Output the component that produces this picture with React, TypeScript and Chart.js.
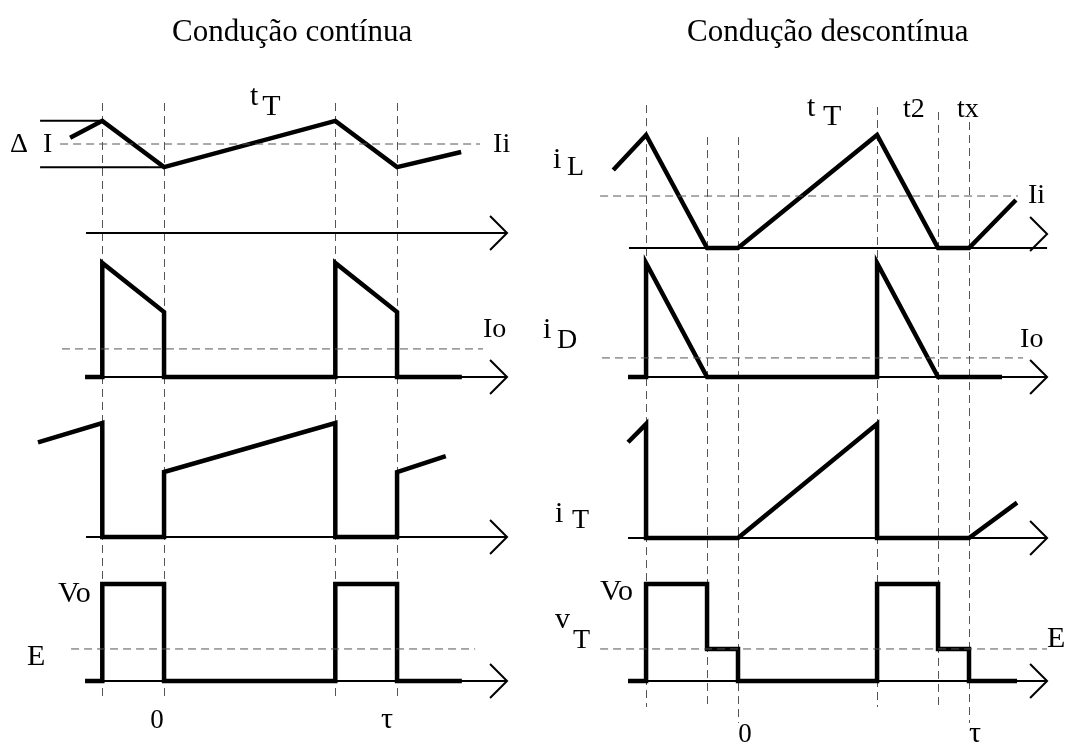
import React, { useEffect, useRef } from "react";
import { Chart, registerables } from "chart.js";

Chart.register(...registerables);

// ---------- shared row bands (stack weights of the 4 stacked y axes) ----------
const rowIds = ["rA", "rB", "rC", "rD"];
const rowWeights = [255, 145, 160, 185];

// ================= LEFT: Condução contínua (time normalised to τ) =================
const ccTimeRange = [-0.704, 1.622];
const ccRowMin = [-0.247, -0.202, -0.202, -0.66];
const ccRowMax = [2.618, 1.07, 1.202, 1.247];

const ccIL_t = [-0.403, -0.265, 0, 0.735, 1, 1.275];
const ccIL_v = [1.07, 1.26, 0.74, 1.26, 0.74, 0.91];
const ccBracket_t = [-0.532, -0.265, 0];
const ccBracket_v = [1.26, 0.74];
const ccID_t = [-0.339, -0.265, -0.265, 0, 0, 0.735, 0.735, 1, 1, 1.278];
const ccID_v = [0, 0, 1, 0.57, 0, 0, 1, 0.57, 0, 0];
const ccIT_t = [-0.541, -0.265, -0.265, 0, 0, 0.735, 0.735, 1, 1, 1.209];
const ccIT_v = [0.83, 1, 0, 0, 0.57, 1, 0, 0, 0.57, 0.71];
const ccVT_t = [-0.339, -0.265, -0.265, 0, 0, 0.735, 0.735, 1, 1, 1.278];
const ccVT_v = [0, 0, 1, 1, 0, 0, 1, 1, 0, 0];

const ccLevelRows = ["rA", "rB", "rD"];
const ccLevelVals = [1, 0.246, 0.33];
const ccLevelFrom = [-0.446, -0.438, -0.399];
const ccLevelTo = [1.356, 1.369, 1.335];

const ccAxisFrom = [-0.335, -0.335, -0.335, -0.335];
const ccAxisTo = [1.472, 1.472, 1.472, 1.472];
const ccAxisLevel = [0, 0, 0, 0];
const ccArrowLevel = [0, 0, 0, 0];

const ccGuide_t = [-0.265, 0, 0.735, 1];
const ccGuideTop = [1.461, 1.461, 1.461, 1.461];
const ccGuideBottom = [-0.165, -0.165, -0.165, -0.165];

const ccLabelText = ["Condução contínua", "Δ", "I", "t", "T", "Ii", "Io", "Vo", "E", "0", "τ"];
const ccLabelT = [0.034, -0.661, -0.519, 0.369, 0.421, 1.412, 1.369, -0.455, -0.588, -0.03, 0.957];
const ccLabelRow = ["rA", "rA", "rA", "rA", "rA", "rA", "rB", "rD", "rD", "rD", "rD"];
const ccLabelV = [2.157, 0.91, 0.91, 1.438, 1.326, 0.91, 0.351, 0.814, 0.165, -0.485, -0.485];
const ccLabelSize = [31, 28, 28, 30, 30, 28, 28, 30, 30, 27, 30];
const ccLabelAlign = ["left", "left", "left", "left", "left", "left", "left", "left", "left", "center", "center"];

// ================= RIGHT: Condução descontínua =================
const dcTimeRange = [-0.8485, 1.4978];
const dcRowMin = [-0.062, -0.202, -0.193, -0.66];
const dcRowMax = [2.195, 1.07, 1.211, 1.247];

const dcIL_t = [-0.54, -0.398, -0.134, 0, 0.602, 0.866, 1, 1.203];
const dcIL_v = [0.69, 1, 0, 0, 1, 0, 0, 0.425];
const dcID_t = [-0.476, -0.398, -0.398, -0.134, 0.602, 0.602, 0.866, 1.143];
const dcID_v = [0, 0, 1, 0, 0, 1, 0, 0];
const dcIT_t = [-0.476, -0.398, -0.398, 0, 0.602, 0.602, 1, 1.208];
const dcIT_v = [0.84, 1, 0, 0, 1, 0, 0, 0.31];
const dcVT_t = [-0.476, -0.398, -0.398, -0.134, -0.134, 0, 0, 0.602, 0.602, 0.866, 0.866, 1, 1, 1.208];
const dcVT_v = [0, 0, 1, 1, 0.33, 0.33, 0, 0, 1, 1, 0.33, 0.33, 0, 0];

const dcLevelRows = ["rA", "rB", "rD"];
const dcLevelVals = [0.46, 0.167, 0.33];
const dcLevelFrom = [-0.597, -0.589, -0.597];
const dcLevelTo = [1.212, 1.234, 1.338];

const dcAxisFrom = [-0.472, -0.476, -0.476, -0.476];
const dcAxisTo = [1.338, 1.338, 1.338, 1.338];
const dcAxisLevel = [0, 0, 0, 0];
const dcArrowLevel = [0.124, 0, 0, 0];

const dcGuide_t = [-0.398, -0.134, 0, 0.602, 0.866, 1];
const dcGuideTop = [1.265, 0.982, 0.982, 1.248, 1.204, 1.115];
const dcGuideBottom = [-0.268, -0.268, -0.433, -0.268, -0.268, -0.433];

const dcLabelText = ["Condução descontínua", "i", "L", "t", "T", "t2", "tx", "Ii", "i", "D", "Io", "i", "T", "Vo", "v", "T", "E", "0", "τ"];
const dcLabelT = [-0.221, -0.801, -0.74, 0.299, 0.368, 0.714, 0.948, 1.255, -0.844, -0.784, 1.221, -0.792, -0.719, -0.597, -0.792, -0.714, 1.338, 0.03, 1.026];
const dcLabelRow = ["rA", "rA", "rA", "rA", "rA", "rA", "rA", "rA", "rB", "rB", "rB", "rC", "rC", "rD", "rD", "rD", "rD", "rD", "rD"];
const dcLabelV = [1.832, 0.708, 0.646, 1.168, 1.088, 1.159, 1.159, 0.398, 0.342, 0.254, 0.263, 0.14, 0.088, 0.835, 0.546, 0.34, 0.351, -0.629, -0.629];
const dcLabelSize = [31, 30, 28, 30, 30, 28, 28, 28, 30, 28, 28, 30, 28, 30, 30, 28, 30, 27, 30];
const dcLabelAlign = ["left", "left", "left", "left", "left", "left", "left", "left", "left", "left", "left", "left", "left", "left", "left", "left", "left", "center", "center"];

const FONT = '"Liberation Serif", "Times New Roman", serif';

type Col = {
  timeRange: number[];
  rowMin: number[];
  rowMax: number[];
  waves: { t: number[]; v: number[]; row: string }[];
  thin: { t: number[]; v: number[]; row: string }[];
  levelRows: string[];
  levelVals: number[];
  levelFrom: number[];
  levelTo: number[];
  axisFrom: number[];
  axisTo: number[];
  axisLevel: number[];
  arrowLevel: number[];
  guideT: number[];
  guideTop: number[];
  guideBottom: number[];
  labelText: string[];
  labelT: number[];
  labelRow: string[];
  labelV: number[];
  labelSize: number[];
  labelAlign: string[];
};

const leftCol: Col = {
  timeRange: ccTimeRange,
  rowMin: ccRowMin,
  rowMax: ccRowMax,
  waves: [
    { t: ccIL_t, v: ccIL_v, row: "rA" },
    { t: ccID_t, v: ccID_v, row: "rB" },
    { t: ccIT_t, v: ccIT_v, row: "rC" },
    { t: ccVT_t, v: ccVT_v, row: "rD" },
  ],
  thin: [
    { t: [ccBracket_t[0], ccBracket_t[1]], v: [ccBracket_v[0], ccBracket_v[0]], row: "rA" },
    { t: [ccBracket_t[0], ccBracket_t[2]], v: [ccBracket_v[1], ccBracket_v[1]], row: "rA" },
  ],
  levelRows: ccLevelRows,
  levelVals: ccLevelVals,
  levelFrom: ccLevelFrom,
  levelTo: ccLevelTo,
  axisFrom: ccAxisFrom,
  axisTo: ccAxisTo,
  axisLevel: ccAxisLevel,
  arrowLevel: ccArrowLevel,
  guideT: ccGuide_t,
  guideTop: ccGuideTop,
  guideBottom: ccGuideBottom,
  labelText: ccLabelText,
  labelT: ccLabelT,
  labelRow: ccLabelRow,
  labelV: ccLabelV,
  labelSize: ccLabelSize,
  labelAlign: ccLabelAlign,
};

const rightCol: Col = {
  timeRange: dcTimeRange,
  rowMin: dcRowMin,
  rowMax: dcRowMax,
  waves: [
    { t: dcIL_t, v: dcIL_v, row: "rA" },
    { t: dcID_t, v: dcID_v, row: "rB" },
    { t: dcIT_t, v: dcIT_v, row: "rC" },
    { t: dcVT_t, v: dcVT_v, row: "rD" },
  ],
  thin: [],
  levelRows: dcLevelRows,
  levelVals: dcLevelVals,
  levelFrom: dcLevelFrom,
  levelTo: dcLevelTo,
  axisFrom: dcAxisFrom,
  axisTo: dcAxisTo,
  axisLevel: dcAxisLevel,
  arrowLevel: dcArrowLevel,
  guideT: dcGuide_t,
  guideTop: dcGuideTop,
  guideBottom: dcGuideBottom,
  labelText: dcLabelText,
  labelT: dcLabelT,
  labelRow: dcLabelRow,
  labelV: dcLabelV,
  labelSize: dcLabelSize,
  labelAlign: dcLabelAlign,
};

const decorPlugin = {
  id: "decor",
  beforeDatasetsDraw(chart: any) {
    const col: Col = chart.options.plugins.decor.col;
    const ctx = chart.ctx;
    const xs = chart.scales.x;
    ctx.save();
    ctx.strokeStyle = "#555";
    ctx.lineWidth = 1;
    ctx.setLineDash([8, 5]);
    col.guideT.forEach((t, i) => {
      const px = Math.round(xs.getPixelForValue(t)) + 0.5;
      ctx.beginPath();
      ctx.moveTo(px, chart.scales.rA.getPixelForValue(col.guideTop[i]));
      ctx.lineTo(px, chart.scales.rD.getPixelForValue(col.guideBottom[i]));
      ctx.stroke();
    });
    ctx.restore();
  },
  afterDatasetsDraw(chart: any) {
    const col: Col = chart.options.plugins.decor.col;
    const ctx = chart.ctx;
    const xs = chart.scales.x;
    ctx.save();
    ctx.strokeStyle = "#000";
    ctx.lineWidth = 2;
    ctx.setLineDash([]);
    rowIds.forEach((id, i) => {
      const px = xs.getPixelForValue(col.axisTo[i]);
      const py = chart.scales[id].getPixelForValue(col.arrowLevel[i]);
      ctx.beginPath();
      ctx.moveTo(px - 17, py - 17);
      ctx.lineTo(px, py);
      ctx.lineTo(px - 17, py + 17);
      ctx.stroke();
    });
    ctx.fillStyle = "#000";
    ctx.textBaseline = "alphabetic";
    col.labelText.forEach((txt, i) => {
      ctx.font = `${col.labelSize[i]}px ${FONT}`;
      ctx.textAlign = col.labelAlign[i] as CanvasTextAlign;
      ctx.fillText(
        txt,
        xs.getPixelForValue(col.labelT[i]),
        chart.scales[col.labelRow[i]].getPixelForValue(col.labelV[i])
      );
    });
    ctx.restore();
  },
};

function buildConfig(col: Col): any {
  const datasets: any[] = [];
  const add = (t: number[], v: number[], row: string, kind: string) => {
    datasets.push({
      data: t.map((x, i) => ({ x, y: v[i] })),
      yAxisID: row,
      showLine: true,
      pointRadius: 0,
      pointHoverRadius: 0,
      borderColor: kind === "dash" ? "#555" : "#000",
      backgroundColor: "transparent",
      borderWidth: kind === "wave" ? 4.5 : kind === "dash" ? 1 : 2,
      borderDash: kind === "dash" ? [8, 5] : [],
      borderJoinStyle: "miter",
      borderCapStyle: "butt",
      tension: 0,
      fill: false,
      clip: false,
    });
  };
  col.levelRows.forEach((row, i) =>
    add([col.levelFrom[i], col.levelTo[i]], [col.levelVals[i], col.levelVals[i]], row, "dash")
  );
  rowIds.forEach((row, i) =>
    add([col.axisFrom[i], col.axisTo[i]], [col.axisLevel[i], col.axisLevel[i]], row, "axis")
  );
  col.thin.forEach((s) => add(s.t, s.v, s.row, "thin"));
  col.waves.forEach((s) => add(s.t, s.v, s.row, "wave"));

  const scales: any = {
    x: {
      type: "linear",
      position: "bottom",
      display: false,
      min: col.timeRange[0],
      max: col.timeRange[1],
      bounds: "data",
    },
  };
  rowIds.forEach((id, i) => {
    scales[id] = {
      type: "linear",
      position: "right",
      display: false,
      stack: "rows",
      stackWeight: rowWeights[i],
      weight: i + 1,
      min: col.rowMin[i],
      max: col.rowMax[i],
      bounds: "data",
    };
  });

  return {
    type: "scatter",
    data: { datasets },
    options: {
      animation: false,
      responsive: false,
      events: [],
      layout: { padding: 0 },
      scales,
      plugins: {
        legend: { display: false },
        tooltip: { enabled: false },
        decor: { col },
      },
    },
    plugins: [decorPlugin],
  };
}

function Column({ col, left }: { col: Col; left: number }) {
  const ref = useRef<HTMLCanvasElement>(null);
  useEffect(() => {
    const chart = new Chart(ref.current as HTMLCanvasElement, buildConfig(col));
    return () => chart.destroy();
  }, [col]);
  return (
    <canvas
      ref={ref}
      width={542}
      height={745}
      style={{ position: "absolute", left, top: 0, width: 542, height: 745 }}
    />
  );
}

export default function App() {
  return (
    <div
      style={{
        position: "fixed",
        left: 0,
        top: 0,
        width: 1084,
        height: 745,
        background: "#fff",
        overflow: "hidden",
      }}
    >
      <Column col={leftCol} left={0} />
      <Column col={rightCol} left={542} />
    </div>
  );
}
